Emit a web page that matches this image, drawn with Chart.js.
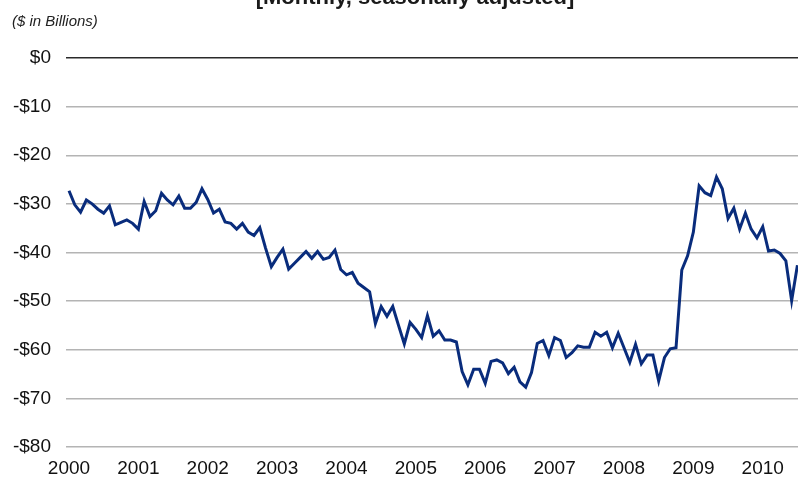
<!DOCTYPE html>
<html>
<head>
<meta charset="utf-8">
<script src="https://cdn.jsdelivr.net/npm/chart.js@4/dist/chart.umd.min.js"></script>
<style>
  html, body { margin: 0; padding: 0; background: #fff; }
  #wrap { position: relative; width: 798px; height: 487px; overflow: hidden; }
</style>
</head>
<body>
<div id="wrap"><canvas id="tradeChart" width="798" height="487"></canvas></div>
<script>
// monthly trade balance, $ billions, Jan 2000 .. Jul 2010
const balance2000 = [-27.3, -30.2, -31.7, -29.2, -30.0, -31.1, -31.9, -30.4, -34.3, -33.8, -33.3, -34.0];
const balance2001 = [-35.2, -29.5, -32.6, -31.4, -27.8, -29.2, -30.2, -28.4, -30.9, -30.9, -29.7, -26.9];
const balance2002 = [-29.1, -31.9, -31.1, -33.7, -34.0, -35.2, -34.0, -35.8, -36.5, -34.9, -39.1, -42.9];
const balance2003 = [-41.0, -39.3, -43.4, -42.2, -41.0, -39.8, -41.2, -39.8, -41.4, -41.0, -39.5, -43.5];
const balance2004 = [-44.6, -44.1, -46.3, -47.2, -48.1, -54.6, -51.1, -53.1, -51.1, -55.0, -58.8, -54.4];
const balance2005 = [-55.8, -57.5, -53.0, -57.2, -56.1, -58.0, -58.0, -58.4, -64.5, -67.2, -64.0, -64.0];
const balance2006 = [-66.9, -62.4, -62.1, -62.7, -64.9, -63.6, -66.6, -67.7, -64.7, -58.7, -58.1, -61.2];
const balance2007 = [-57.5, -58.1, -61.6, -60.6, -59.2, -59.5, -59.5, -56.4, -57.2, -56.4, -59.6, -56.6];
const balance2008 = [-59.6, -62.6, -58.9, -62.9, -61.1, -61.1, -66.4, -61.6, -59.8, -59.6, -43.6, -40.7];
const balance2009 = [-35.8, -26.3, -27.7, -28.3, -24.5, -26.9, -33.0, -30.9, -35.2, -31.9, -35.2, -37.0];
const balance2010 = [-34.7, -39.7, -39.5, -40.2, -41.7, -49.9, -42.6];

const years = ['2000', '2001', '2002', '2003', '2004', '2005', '2006', '2007', '2008', '2009', '2010'];
const yTicks = [0, -10, -20, -30, -40, -50, -60, -70, -80];

const allValues = [].concat(balance2000, balance2001, balance2002, balance2003, balance2004,
    balance2005, balance2006, balance2007, balance2008, balance2009, balance2010);
const points = allValues.map((v, i) => ({ x: i, y: v }));

const FONT = "'Liberation Sans', Arial, sans-serif";

// titles drawn by hand, the top one is cut off in the original
const headerText = {
    id: 'headerText',
    afterDraw(chart) {
        const ctx = chart.ctx;
        ctx.save();
        ctx.fillStyle = '#1a1a1a';
        ctx.font = 'bold 22px ' + FONT;
        ctx.textAlign = 'center';
        ctx.textBaseline = 'alphabetic';
        ctx.fillText('[Monthly, seasonally adjusted]', 415, 4);
        ctx.font = 'italic 15px ' + FONT;
        ctx.textAlign = 'left';
        ctx.fillStyle = '#222';
        ctx.fillText('($ in Billions)', 12, 26);
        ctx.restore();
    }
};

new Chart(document.getElementById('tradeChart'), {
    type: 'line',
    data: {
        datasets: [{
            data: points,
            borderColor: '#092c7c',
            borderWidth: 3,
            pointRadius: 0,
            tension: 0,
            fill: false
        }]
    },
    options: {
        responsive: false,
        animation: false,
        layout: { padding: { top: 58, left: 0, right: 0, bottom: 0 } },
        plugins: {
            legend: { display: false },
            tooltip: { enabled: false }
        },
        scales: {
            x: {
                type: 'linear',
                min: -0.52,
                max: 126.1,
                afterFit(scale) { scale.height = 40; },
                afterBuildTicks(scale) {
                    scale.ticks = years.map((y, i) => ({ value: i * 12 }));
                },
                ticks: {
                    autoSkip: false,
                    maxRotation: 0,
                    padding: 10,
                    color: '#111',
                    font: { family: FONT, size: 19 },
                    callback: (v) => years[Math.round(v / 12)]
                },
                grid: { display: false, drawTicks: false },
                border: { display: false }
            },
            y: {
                min: -80,
                max: 0,
                afterFit(scale) { scale.width = 66; },
                afterBuildTicks(scale) {
                    scale.ticks = yTicks.map(v => ({ value: v }));
                },
                ticks: {
                    padding: 15,
                    color: '#111',
                    font: { family: FONT, size: 19 },
                    callback: (v) => (v < 0 ? '-$' + Math.abs(v) : '$' + v)
                },
                grid: {
                    drawTicks: false,
                    color: (c) => (c.tick && c.tick.value === 0 ? '#2a2a2a' : '#b4b4b4'),
                    lineWidth: (c) => (c.tick && c.tick.value === 0 ? 1.6 : 1.4)
                },
                border: { display: false }
            }
        }
    },
    plugins: [headerText]
});
</script>
</body>
</html>
